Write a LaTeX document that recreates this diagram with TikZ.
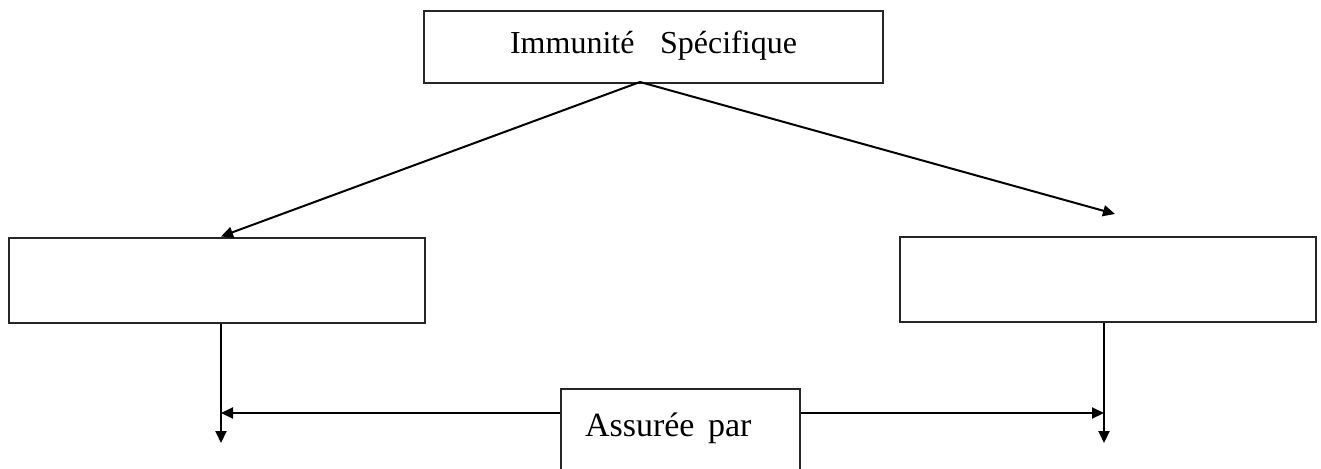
\documentclass[tikz,border=0pt]{standalone}
\usepackage{fontspec}
\setmainfont{Liberation Serif}
\usetikzlibrary{arrows.meta}
\begin{document}
\begin{tikzpicture}[x=1pt,y=-1pt,
  box/.style={draw=black!85,line width=2pt,rectangle,inner sep=0pt,font=\fontsize{32}{38}\selectfont},
  conn/.style={line width=2pt,-{Triangle[length=12pt,width=11pt]}}]
\useasboundingbox (0,0) rectangle (1321,468);
\node[box,anchor=north,minimum width=459pt,text height=43pt,text depth=29pt] (top) at (653.5,10) {Immunité\hspace{0.8em}Spécifique};
\node[box,minimum width=415.5pt,minimum height=85.5pt] (left) at (216.75,280.25) {};
\node[box,minimum width=415.5pt,minimum height=85pt] (right) at (1107.75,279.5) {};
\node[box,anchor=north,minimum width=239pt,text height=47pt,text depth=45pt,font=\fontsize{34}{40}\selectfont] (assure) at (680.5,388) {\makebox[239pt][l]{\hspace{24pt}Assurée\hspace{0.4em}par}};
\coordinate (apex) at (640,82);
\coordinate (rtip) at (1115,214);
\coordinate (lv) at (221,443);
\coordinate (rv) at (1104,443);
\coordinate (hy) at (0,413);
\draw[conn] (apex) -- (left.north -| lv);
\draw[conn] (apex) -- (rtip);
\draw[conn] (left.south -| lv) -- (lv);
\draw[conn] (right.south -| rv) -- (rv);
\draw[conn] (assure.west |- hy) -- (lv |- hy);
\draw[conn] (assure.east |- hy) -- (rv |- hy);
\end{tikzpicture}
\end{document}
